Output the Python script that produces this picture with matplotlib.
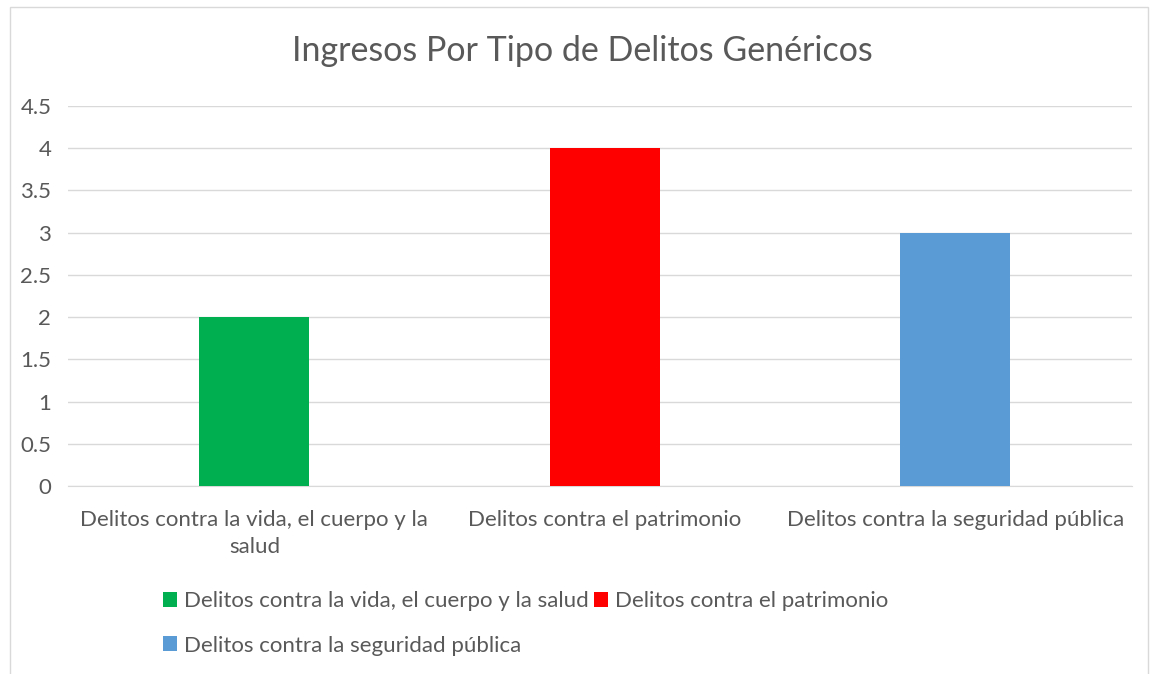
import matplotlib.pyplot as plt
from matplotlib.patches import Rectangle, Patch

# datos del gráfico
categorias = ["Delitos contra la vida, el cuerpo y la salud",
              "Delitos contra el patrimonio",
              "Delitos contra la seguridad pública"]
etiquetas_x = ["Delitos contra la vida, el cuerpo y la\nsalud",
               "Delitos contra el patrimonio",
               "Delitos contra la seguridad pública"]
ingresos = [2, 4, 3]
colores = ["#00b050", "#ff0000", "#5b9bd5"]
ticks_y = [0, 0.5, 1, 1.5, 2, 2.5, 3, 3.5, 4, 4.5]
titulo = "Ingresos Por Tipo de Delitos Genéricos"

plt.rcParams['font.family'] = ['Lato', 'DejaVu Sans']
gris = "#595959"

fig = plt.figure(figsize=(11.64, 6.74), dpi=100)
ax = fig.add_axes([0.0584, 0.279, 0.914, 0.5637])

x = range(len(categorias))
ax.bar(x, ingresos, width=0.314, color=colores, zorder=3)

ax.set_xlim(-0.532, 2.504)
ax.set_ylim(0, 4.5)
ax.set_yticks(ticks_y)
ax.set_yticklabels(["{:g}".format(t) for t in ticks_y])
ax.set_xticks(list(x))
ax.set_xticklabels(etiquetas_x, linespacing=1.45)
ax.tick_params(axis='both', length=0, colors=gris, labelsize=16)
ax.tick_params(axis='x', pad=17)
ax.tick_params(axis='y', pad=12)
ax.grid(axis='y', color="#d9d9d9", linewidth=1, zorder=0)
for lado in ['top', 'right', 'left']:
    ax.spines[lado].set_visible(False)
ax.spines['bottom'].set_color("#d9d9d9")

fig.text(0.5, 0.925, titulo, ha='center', va='center', fontsize=24.5, color=gris)

# leyenda (ncol llena por columnas, así que se reordena)
orden = [0, 2, 1]
handles = [Patch(facecolor=colores[i], edgecolor='none') for i in orden]
etiquetas = [categorias[i] for i in orden]
fig.legend(handles, etiquetas, ncol=2, loc='upper left',
           bbox_to_anchor=(0.132, 0.136), frameon=False,
           fontsize=16, labelcolor=gris, handlelength=0.65, handleheight=0.65,
           handletextpad=0.3, columnspacing=0.25, labelspacing=1.1,
           borderaxespad=0)

# borde exterior
fig.patches.append(Rectangle((0.009, -0.05), 0.977, 1.04, transform=fig.transFigure,
                             fill=False, edgecolor="#d9d9d9", linewidth=1))

fig.savefig("out.png", dpi=100)
